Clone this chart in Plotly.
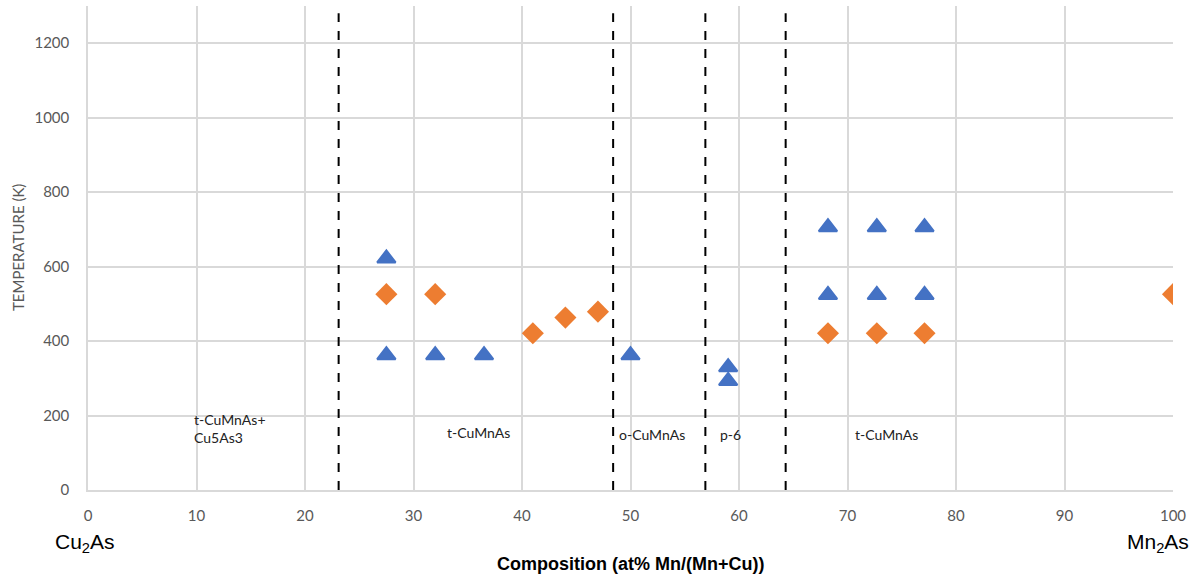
import plotly.graph_objects as go

tri_x = [27.5, 27.5, 32, 36.5, 50, 59, 59, 68.2, 72.7, 77.1, 68.2, 72.7, 77.1]
tri_y = [622, 362, 362, 362, 362, 330, 293, 706, 706, 706, 524, 524, 524]
dia_x = [27.5, 32, 41, 44, 47, 68.2, 72.7, 77.1, 100]
dia_y = [526, 526, 421, 463, 479, 421, 421, 421, 526]
boundaries = [23.1, 48.4, 56.9, 64.3]
phase_labels = ["t-CuMnAs+<br>Cu5As3", "t-CuMnAs", "o-CuMnAs", "p-6", "t-CuMnAs"]
phase_x = [9.6, 32.9, 48.8, 58.1, 70.5]
phase_y = [165, 155, 150, 150, 150]

fig = go.Figure()
fig.add_trace(go.Scatter(x=tri_x, y=tri_y, mode="markers",
                         marker=dict(symbol="triangle-up", size=16, color="#4472C4",
                                     line=dict(color="#4472C4", width=2)),
                         showlegend=False))
fig.add_trace(go.Scatter(x=dia_x, y=dia_y, mode="markers",
                         marker=dict(symbol="diamond", size=17, color="#ED7D31"),
                         showlegend=False))

for b in boundaries:
    fig.add_shape(type="line", x0=b, x1=b, y0=0, y1=0.985, xref="x", yref="paper",
                  line=dict(color="black", width=2, dash="dash"))

for lab, px, py in zip(phase_labels, phase_x, phase_y):
    fig.add_annotation(x=px, y=py, text=lab, showarrow=False, xanchor="left",
                       yanchor="middle", align="left",
                       font=dict(family="Lato, Carlito, sans-serif", size=14, color="#222"))

fig.add_annotation(x=85, y=543, text="Cu<sub>2</sub>As",
                   showarrow=False, font=dict(family="Liberation Sans, Arial", size=21, color="black"))
fig.add_annotation(x=1158, y=543, text="Mn<sub>2</sub>As", showarrow=False,
                   font=dict(family="Liberation Sans, Arial", size=21, color="black"))
fig.add_annotation(x=630, y=564, text="<b>Composition (at% Mn/(Mn+Cu))</b>", showarrow=False,
                   font=dict(family="Liberation Sans, Arial", size=18, color="black"))
fig.add_annotation(x=18, y=248, text="TEMPERATURE (K)", textangle=-90, showarrow=False,
                   font=dict(family="Lato, Carlito, sans-serif", size=15, color="#595959"))

# convert pixel-positioned annotations (last four) to paper coords
W, H = 1201, 576
L, R, T, B = 88, 28, 6, 86
pw, ph = W - L - R, H - T - B
anns = list(fig.layout.annotations)
for a in anns[-4:]:
    a.xref = "paper"
    a.yref = "paper"
    a.x = (a.x - L) / pw
    a.y = (H - B - a.y) / ph
    a.xanchor = "center"
    a.yanchor = "middle"
fig.layout.annotations = anns

fig.update_layout(
    width=W, height=H,
    margin=dict(l=L, r=R, t=T, b=B),
    plot_bgcolor="white", paper_bgcolor="white",
    xaxis=dict(range=[0, 100], dtick=10, showgrid=True, gridcolor="#d9d9d9", gridwidth=1.5,
               zeroline=False, showline=True, linecolor="#d9d9d9", linewidth=1.5,
               tickfont=dict(family="Lato, Carlito, sans-serif", size=15, color="#595959"),
               ticks="", ticklabelstandoff=11),
    yaxis=dict(range=[0, 1300], tickvals=[0, 200, 400, 600, 800, 1000, 1200],
               showgrid=True, gridcolor="#d9d9d9", gridwidth=1.5,
               zeroline=False, showline=True, linecolor="#d9d9d9", linewidth=1.5,
               tickfont=dict(family="Lato, Carlito, sans-serif", size=15, color="#595959"),
               ticks="", ticklabelstandoff=14),
)

fig.write_html("out.html")
